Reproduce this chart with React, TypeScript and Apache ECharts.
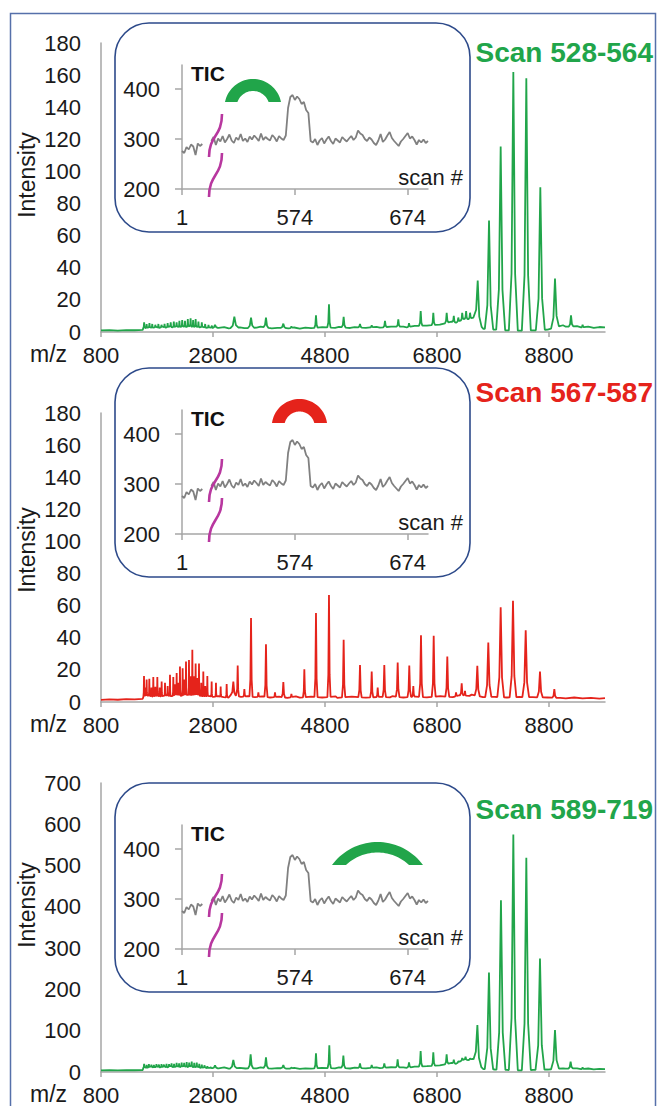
import React, { useEffect, useRef } from "react";
import * as echarts from "echarts";

type Pt = [number, number];
type Pk = [number, number, number]; // m/z, height, half width

// ---------- tick labels / categories ----------
const MZ_TICKS = [800, 2800, 4800, 6800, 8800];
const SCAN_TICKS = [1, 574, 674];
const TIC_TICKS = [200, 300, 400];
const PANEL_TITLES = ["Scan 528-564", "Scan 567-587", "Scan 589-719"];
const PANEL_MAX = [180, 180, 700];
const PANEL_STEP = [20, 20, 100];

// ---------- TIC trace (scan number -> total ion current) ----------
const TIC_LEFT_START = 1;
const TIC_RIGHT_START = 500;
const TIC_STEP = 2;
const TIC_LEFT = [276, 272, 284, 279, 289, 285, 268, 291, 286, 290];
const TIC_RIGHT = [
  296, 304, 288, 301, 295, 306, 293, 300, 309, 297, 292, 303, 298, 310, 296, 301, 294,
  305, 299, 307, 302, 296, 311, 298, 304, 300, 297, 308, 303, 295, 306, 301, 298, 307,
  362, 384, 388, 378, 385, 380, 370, 374, 358, 352,
  296, 293, 300, 288, 297, 302, 291, 299, 305, 296, 290, 301, 297, 293, 304, 299, 295,
  301, 306, 298, 303, 317, 311, 308, 300, 296, 303, 299, 292, 288, 297, 310, 294, 299,
  307, 314, 302, 296, 291, 286, 295, 300, 306, 312, 301, 305, 298, 289, 298, 293, 299,
  292, 296,
];

// ---------- Spectrum 1 : scans 528-564 ----------
const BASE_1: Pt[] = [
  [800, 1], [950, 1.2], [1100, 0.9], [1250, 1.2], [1400, 1.1], [1545, 1.3],
  [1560, 3.2], [1600, 2.4], [1660, 3], [1720, 2.6], [1780, 3.1], [1840, 2.5], [1900, 3.3],
  [1960, 2.7], [2020, 3.4], [2080, 2.9], [2140, 3.5], [2200, 3], [2260, 3.6], [2320, 3.1],
  [2380, 3.7], [2440, 3.2], [2500, 3.4], [2560, 2.9], [2620, 3.2], [2680, 2.6], [2740, 2.9],
  [2800, 2.4], [2900, 2.6], [3000, 3.1], [3080, 2.3], [3280, 2.9], [3360, 2.4], [3580, 2.7],
  [3650, 3.3], [3850, 2.2], [3950, 2.6], [4150, 2.3], [4250, 2.8], [4350, 2.1], [4450, 2.7],
  [4550, 2.4], [4750, 3], [4980, 2.6], [5050, 3.2], [5250, 2.5], [5330, 3.1], [5530, 2.6],
  [5720, 3.2], [5780, 2.7], [5980, 3.4], [6200, 3.3], [6260, 2.9], [6400, 3.8], [6620, 4],
  [6850, 4.6], [7060, 6.5], [7140, 5.8], [7215, 7], [7285, 8.2], [7355, 8], [7450, 9],
  [7628, 2], [7833, 1.5], [8050, 1], [8280, 0.8], [8520, 1], [8776, 1.5], [9050, 4.2],
  [9100, 3.3], [9300, 3.6], [9380, 2.8], [9500, 3.4], [9600, 2.6], [9700, 3.1], [9800, 2.9],
];
const PEAKS_1: Pk[] = [
  [1570, 6, 18], [1615, 5, 14], [1665, 5.5, 14], [1715, 5, 14], [1770, 4.5, 14], [1825, 5, 14],
  [1880, 4.5, 14], [1935, 5, 14], [1990, 5.5, 14], [2045, 6, 14], [2100, 6.5, 14],
  [2150, 6, 14], [2200, 7, 14], [2250, 7.5, 14], [2300, 7, 14], [2350, 8, 14], [2400, 8.5, 14],
  [2445, 7.5, 14], [2490, 8, 14], [2540, 6.5, 14], [2600, 6, 14], [2660, 5, 14], [2720, 4.5, 14],
  [2780, 4, 14],
  [2836, 4.5, 50], [3181, 9.5, 70], [3479, 9, 55], [3746, 9, 45], [4056, 5.2, 50], [4200, 3.5, 25],
  [4639, 10.4, 30], [4871, 17.3, 30], [5133, 9.4, 35], [5425, 5, 30], [5634, 4.2, 25],
  [5871, 6.9, 30], [6109, 7.9, 30], [6300, 5.5, 25], [6509, 13, 30], [6734, 12, 30],
  [6973, 12, 30], [7100, 10, 25], [7180, 9, 25], [7250, 12, 25], [7320, 13, 25], [7390, 12, 25],
  [7527, 32, 70], [7729, 69.4, 75], [7937, 115.6, 80], [8163, 162, 80], [8395, 158, 80],
  [8645, 90.2, 80], [8907, 33.3, 70], [9193, 10.4, 40], [9400, 4.5, 25],
];

// ---------- Spectrum 2 : scans 567-587 ----------
const BASE_2: Pt[] = [
  [800, 1.3], [950, 1.6], [1100, 1.4], [1250, 1.8], [1400, 1.6], [1545, 2],
  [1560, 3.5], [1640, 4], [1720, 3.4], [1790, 4], [1870, 3.5], [1960, 4.2], [2060, 3.6],
  [2140, 4.4], [2230, 3.8], [2340, 4.6], [2410, 4], [2510, 4.5], [2600, 3.6], [2720, 3.8],
  [2800, 3.2], [2900, 3.6], [2990, 3], [3080, 2.8], [3120, 4.5], [3300, 3.2], [3420, 3.6], [3550, 3],
  [3680, 3.5], [3820, 2.8], [3980, 3.3], [4130, 2.6], [4280, 3.5], [4350, 2.7], [4550, 3.4],
  [4750, 2.8], [4990, 3.5], [5020, 2.6], [5280, 3.3], [5530, 2.7], [5800, 3.2], [5960, 2.9],
  [6000, 3.6], [6200, 2.8], [6420, 3.4], [6620, 2.9], [6860, 3.6], [7080, 3], [7200, 4.2],
  [7380, 3.8], [7420, 4.6], [7620, 3], [7830, 3.2], [8050, 2.8], [8270, 3.1], [8510, 3],
  [8770, 2.8], [9000, 2.6], [9100, 2.3], [9250, 2.8], [9400, 2.2], [9550, 2.6], [9700, 2.1],
  [9800, 2.4],
];
const PEAKS_2: Pk[] = [
  [1568, 16.2, 12], [1592, 9, 9], [1615, 14, 10], [1663, 14.4, 10], [1700, 9, 9], [1734, 15.6, 10],
  [1770, 9.5, 9], [1806, 15.6, 10], [1848, 9, 9], [1883, 12.7, 10], [1943, 12, 10], [1990, 10, 9],
  [2032, 16.9, 10], [2091, 15.6, 10], [2122, 11, 9], [2151, 18.1, 10], [2182, 12, 9],
  [2210, 22.1, 10], [2258, 21, 10], [2288, 14, 9], [2318, 25.2, 10], [2371, 26.2, 10],
  [2402, 16, 9], [2431, 32.5, 10], [2462, 16, 9], [2490, 24, 10], [2520, 15, 9], [2550, 24, 10],
  [2590, 12, 9], [2627, 19, 10], [2662, 10, 9], [2699, 16.2, 10], [2776, 12.7, 10],
  [2853, 12, 10], [2937, 9.6, 10], [3044, 11.2, 14],
  [3163, 12.7, 45], [3241, 22.7, 22], [3360, 8, 20], [3479, 52.3, 28], [3610, 6, 20],
  [3746, 36, 28], [3907, 6, 20], [4056, 12.5, 30], [4200, 5, 20], [4431, 20.4, 25],
  [4639, 55.4, 28], [4871, 66.7, 28], [5133, 38.7, 30], [5425, 23, 30], [5634, 19, 28],
  [5741, 9, 22], [5859, 23, 30], [6098, 24.6, 32], [6305, 22.7, 32], [6377, 10, 22],
  [6514, 41.5, 35], [6741, 41.3, 35], [6984, 28.3, 35], [7140, 6, 20], [7241, 11.7, 28],
  [7300, 7, 20], [7520, 22.5, 45], [7716, 37, 55], [7937, 59, 60], [8157, 63, 60],
  [8384, 44.6, 60], [8639, 19, 50], [8895, 8, 35],
];

// ---------- Spectrum 3 : scans 589-719 ----------
const BASE_3: Pt[] = [
  [800, 4], [950, 4.5], [1100, 3.8], [1250, 4.6], [1400, 4.2], [1545, 4.8],
  [1560, 12], [1620, 10], [1680, 13], [1740, 10.5], [1800, 13], [1860, 11], [1920, 13.5],
  [1980, 11], [2040, 14], [2100, 11.5], [2160, 14], [2220, 12], [2280, 14.5], [2340, 12],
  [2400, 14], [2460, 11.5], [2520, 13], [2580, 10], [2640, 11], [2700, 9], [2760, 10],
  [2820, 8], [2900, 9], [3000, 11], [3080, 8], [3280, 10], [3380, 8.5], [3580, 9], [3650, 11],
  [3850, 8], [3950, 9.5], [4150, 8], [4250, 10], [4350, 7.5], [4450, 9], [4550, 8], [4750, 10],
  [4980, 9], [5050, 11], [5250, 8.5], [5330, 10.5], [5530, 9], [5720, 11], [5780, 9.5],
  [5980, 11.5], [6200, 11], [6260, 10], [6400, 13], [6620, 14], [6850, 16], [7060, 22],
  [7140, 20], [7215, 26], [7285, 30], [7355, 29], [7440, 32], [7628, 7], [7833, 6], [8050, 5],
  [8280, 4], [8520, 5], [8776, 6], [9050, 9], [9100, 8], [9300, 9], [9380, 7], [9500, 8.5],
  [9600, 6.5], [9700, 7.5], [9800, 7],
];
const PEAKS_3: Pk[] = [
  [1570, 20, 15], [1615, 17, 12], [1655, 19, 12], [1700, 18, 12], [1745, 17, 12], [1790, 19, 12],
  [1835, 18, 12], [1880, 19, 12], [1925, 18, 12], [1970, 20, 12], [2015, 19, 12], [2060, 21, 12],
  [2105, 20, 12], [2150, 22, 12], [2195, 21, 12], [2240, 23, 12], [2285, 22, 12], [2330, 24, 12],
  [2375, 23, 12], [2420, 25, 12], [2465, 22, 12], [2510, 23, 12], [2555, 20, 12], [2600, 18, 12],
  [2650, 16, 12], [2700, 14, 12], [2760, 12, 12],
  [2836, 16, 50], [3163, 29, 60], [3472, 42.8, 45], [3746, 35.5, 40], [4056, 16.9, 45],
  [4200, 11, 25], [4639, 45.2, 30], [4877, 64.6, 30], [5128, 39.5, 35], [5425, 21, 30],
  [5634, 17, 25], [5859, 21, 30], [6097, 30.7, 30], [6300, 23.4, 28], [6508, 50.8, 30],
  [6734, 47.6, 30], [6972, 42.8, 30], [7100, 30, 25], [7180, 26, 25], [7250, 34, 25],
  [7310, 37, 25], [7390, 33, 25], [7521, 113.8, 70], [7728, 241, 75], [7942, 416, 80],
  [8163, 575.5, 80], [8395, 519, 80], [8639, 275, 80], [8907, 101.7, 70], [9186, 25, 40],
  [9400, 11, 25],
];

const BASES = [BASE_1, BASE_2, BASE_3];
const PEAKS = [PEAKS_1, PEAKS_2, PEAKS_3];

// ---------- styling / layout ----------
const FONT = "'Liberation Sans', Arial, Helvetica, sans-serif";
const GREEN = "#21a54a";
const RED = "#e5231b";
const AXIS = "#a6a6a6";
const INK = "#1a1a1a";
const TIC_GRAY = "#808080";
const MAGENTA = "#b8379f";
const PANEL_COLORS = [GREEN, RED, GREEN];
const PANEL_TOP = [43, 413, 783];
const INSET_TOP = [23, 368, 783];
const TITLE_Y = [52, 392, 809];
const INTENSITY_Y = [175, 550, 905];
const ARCS = [
  { cx: 253, top: 79, bottom: 102, half: 28, thick: 12, color: GREEN },
  { cx: 299.5, top: 399, bottom: 423, half: 27.5, thick: 12.5, color: RED },
  { cx: 377.5, top: 842, bottom: 865, half: 45.5, thick: 10.5, color: GREEN },
];

// axis break on scan axis: scans 1-19 are drawn just left of scans 500+
const BREAK_SHIFT = 473;
const toAxis = (s: number) => (s < 100 ? s + BREAK_SHIFT : s);
const fromAxis = (v: number) => (v < 493 ? v - BREAK_SHIFT : v);

function interp(base: Pt[], x: number): number {
  if (x <= base[0][0]) return base[0][1];
  for (let i = 1; i < base.length; i++) {
    if (x <= base[i][0]) {
      const [x0, y0] = base[i - 1];
      const [x1, y1] = base[i];
      return y0 + ((y1 - y0) * (x - x0)) / (x1 - x0);
    }
  }
  return base[base.length - 1][1];
}

function buildSpectrum(base: Pt[], peaks: Pk[]): Pt[] {
  const pts: Pt[] = base.filter(([m]) => !peaks.some(([pm, , w]) => Math.abs(m - pm) < w));
  for (const [pm, h, w] of peaks) {
    const fl = interp(base, pm - w);
    const fr = interp(base, pm + w);
    pts.push(
      [pm - w, fl],
      [pm - 0.4 * w, fl + 0.22 * (h - fl)],
      [pm, h],
      [pm + 0.4 * w, fr + 0.22 * (h - fr)],
      [pm + w, fr]
    );
  }
  pts.sort((a, b) => a[0] - b[0]);
  return pts;
}

function archPoints(cx: number, top: number, bottom: number, half: number, thick: number) {
  const s = bottom - top;
  const R = (half * half + s * s) / (2 * s);
  const cy = top + R;
  const r = R - thick;
  const d = cy - bottom;
  const aO = Math.asin(Math.min(1, d / R));
  const aI = Math.asin(Math.min(1, d / r));
  const pts: number[][] = [];
  const N = 36;
  for (let i = 0; i <= N; i++) {
    const t = Math.PI - aO - ((Math.PI - 2 * aO) * i) / N;
    pts.push([cx + R * Math.cos(t), cy - R * Math.sin(t)]);
  }
  for (let i = 0; i <= N; i++) {
    const t = aI + ((Math.PI - 2 * aI) * i) / N;
    pts.push([cx + r * Math.cos(t), cy - r * Math.sin(t)]);
  }
  return pts;
}

function buildOption() {
  const grid: any[] = [];
  const xAxis: any[] = [];
  const yAxis: any[] = [];
  const series: any[] = [];
  const graphic: any[] = [];

  const ticLeft = TIC_LEFT.map((v, i) => [toAxis(TIC_LEFT_START + i * TIC_STEP), v]);
  const ticRight = TIC_RIGHT.map((v, i) => [toAxis(TIC_RIGHT_START + i * TIC_STEP), v]);
  const scanAxisTicks = SCAN_TICKS.map(toAxis);

  graphic.push({
    type: "rect",
    silent: true,
    shape: { x: 10.5, y: 13.5, width: 645, height: 1120 },
    style: { fill: "none", stroke: "#5670aa", lineWidth: 1.5 },
  });

  for (let p = 0; p < 3; p++) {
    const color = PANEL_COLORS[p];
    const top = PANEL_TOP[p];
    const gh = 289;
    const gm = 2 * p; // main grid / axis index
    const gi = 2 * p + 1; // inset grid / axis index

    // main spectrum grid
    grid.push({ left: 101, top, width: 504, height: gh });
    xAxis.push({
      type: "value",
      gridIndex: gm,
      min: 800,
      max: 9800,
      axisLine: { show: true, lineStyle: { color: AXIS, width: 1.5 } },
      axisTick: { show: true, customValues: MZ_TICKS, length: 5, lineStyle: { color: AXIS, width: 1.5 } },
      axisLabel: {
        customValues: MZ_TICKS,
        margin: 12,
        fontSize: 22,
        color: INK,
        fontFamily: FONT,
        formatter: (v: number) => String(v),
      },
      splitLine: { show: false },
    });
    yAxis.push({
      type: "value",
      gridIndex: gm,
      min: 0,
      max: PANEL_MAX[p],
      interval: PANEL_STEP[p],
      axisLine: { show: true, lineStyle: { color: AXIS, width: 1.5 } },
      axisTick: { show: false },
      axisLabel: { margin: 20, fontSize: 22, color: INK, fontFamily: FONT, formatter: (v: number) => String(v) },
      splitLine: { show: false },
    });

    // inset TIC grid
    const it = INSET_TOP[p];
    grid.push({ left: 182, top: it + 42, width: 246, height: 124 });
    xAxis.push({
      type: "value",
      gridIndex: gi,
      min: toAxis(1),
      max: 692,
      axisLine: { show: true, lineStyle: { color: AXIS, width: 1.5 } },
      axisTick: { show: true, customValues: scanAxisTicks, length: 6, lineStyle: { color: AXIS, width: 1.5 } },
      axisLabel: {
        customValues: scanAxisTicks,
        margin: 17,
        fontSize: 22,
        color: INK,
        fontFamily: FONT,
        formatter: (v: number) => String(fromAxis(v)),
      },
      splitLine: { show: false },
    });
    yAxis.push({
      type: "value",
      gridIndex: gi,
      min: 200,
      max: 448,
      axisLine: { show: true, lineStyle: { color: AXIS, width: 1.5 } },
      axisTick: { show: true, customValues: TIC_TICKS, length: 7, lineStyle: { color: AXIS, width: 1.5 } },
      axisLabel: { customValues: TIC_TICKS, margin: 22, fontSize: 22, color: INK, fontFamily: FONT, formatter: (v: number) => String(v) },
      splitLine: { show: false },
    });

    series.push({
      type: "line",
      xAxisIndex: gm,
      yAxisIndex: gm,
      data: buildSpectrum(BASES[p], PEAKS[p]),
      showSymbol: false,
      symbol: "none",
      silent: true,
      lineStyle: { color, width: 1.8 },
      itemStyle: { color },
      z: 3,
    });
    for (const d of [ticLeft, ticRight]) {
      series.push({
        type: "line",
        xAxisIndex: gi,
        yAxisIndex: gi,
        data: d,
        showSymbol: false,
        symbol: "none",
        silent: true,
        lineStyle: { color: TIC_GRAY, width: 1.8 },
        itemStyle: { color: TIC_GRAY },
        z: 3,
      });
    }

    // decorations
    graphic.push({
      type: "rect",
      silent: true,
      shape: { x: 115, y: it, width: 355, height: 209, r: 34 },
      style: { fill: "none", stroke: "#2d4a8a", lineWidth: 1.6 },
    });
    const dy = it - 23;
    graphic.push({
      type: "bezierCurve",
      silent: true,
      shape: { x1: 209, y1: 157 + dy, cpx1: 209, cpy1: 135 + dy, cpx2: 222, cpy2: 137 + dy, x2: 222, y2: 114 + dy },
      style: { stroke: MAGENTA, lineWidth: 2.6, fill: "none" },
      z: 10,
    });
    graphic.push({
      type: "bezierCurve",
      silent: true,
      shape: { x1: 209, y1: 197 + dy, cpx1: 209, cpy1: 174 + dy, cpx2: 222, cpy2: 176 + dy, x2: 222, y2: 153 + dy },
      style: { stroke: MAGENTA, lineWidth: 2.6, fill: "none" },
      z: 10,
    });
    const a = ARCS[p];
    graphic.push({
      type: "polygon",
      silent: true,
      shape: { points: archPoints(a.cx, a.top, a.bottom, a.half, a.thick) },
      style: { fill: a.color },
      z: 10,
    });
    graphic.push({
      type: "text",
      silent: true,
      x: 191,
      y: it + 50,
      style: { text: "TIC", fontSize: 21, fontWeight: "bold", fontFamily: FONT, fill: "#111", textAlign: "left", textVerticalAlign: "middle" },
    });
    graphic.push({
      type: "text",
      silent: true,
      x: 463,
      y: it + 154,
      style: { text: "scan #", fontSize: 22, fontFamily: FONT, fill: INK, textAlign: "right", textVerticalAlign: "middle" },
    });
    graphic.push({
      type: "text",
      silent: true,
      x: 27,
      y: INTENSITY_Y[p],
      rotation: Math.PI / 2,
      style: { text: "Intensity", fontSize: 23, fontFamily: FONT, fill: INK, textAlign: "center", textVerticalAlign: "middle" },
    });
    graphic.push({
      type: "text",
      silent: true,
      x: 30,
      y: top + gh + 22,
      style: { text: "m/z", fontSize: 23, fontFamily: FONT, fill: INK, textAlign: "left", textVerticalAlign: "middle" },
    });
    graphic.push({
      type: "text",
      silent: true,
      x: 653,
      y: TITLE_Y[p],
      style: { text: PANEL_TITLES[p], fontSize: 28, fontWeight: "bold", fontFamily: FONT, fill: color, textAlign: "right", textVerticalAlign: "middle" },
    });
  }

  return {
    animation: false,
    backgroundColor: "#ffffff",
    textStyle: { fontFamily: FONT },
    grid,
    xAxis,
    yAxis,
    series,
    graphic,
  };
}

export default function App() {
  const ref = useRef<HTMLDivElement>(null);
  useEffect(() => {
    if (!ref.current) return;
    const chart = echarts.init(ref.current, undefined, { renderer: "svg" });
    chart.setOption(buildOption() as any);
    return () => chart.dispose();
  }, []);
  return (
    <div
      ref={ref}
      style={{ position: "absolute", left: 0, top: 0, width: 659, height: 1106, background: "#fff" }}
    />
  );
}
